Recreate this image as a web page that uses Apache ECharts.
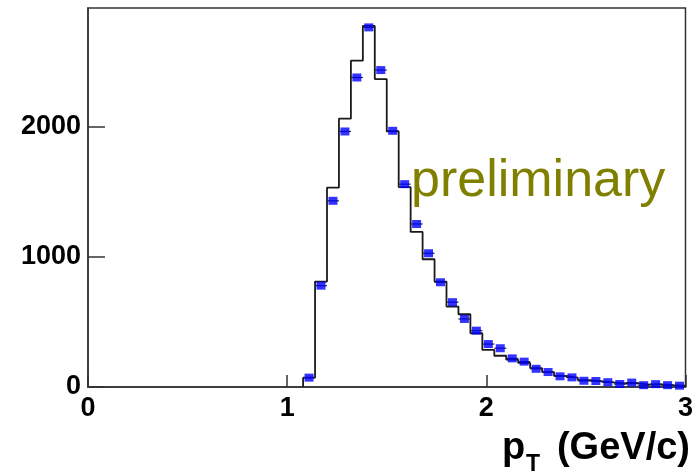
<!DOCTYPE html>
<html>
<head>
<meta charset="utf-8">
<script src="https://cdn.jsdelivr.net/npm/echarts@6/dist/echarts.min.js"></script>
<style>
  html, body { margin: 0; padding: 0; background: #fff; }
  #chart { width: 696px; height: 475px; }
</style>
</head>
<body>
<div id="chart"></div>
<script>
// bins: 32 bins of width 0.06 starting at 1.08
var binStart = 1.08;
var binWidth = 0.06;
// black histogram (bin contents)
var histValues = [72, 810, 1533, 2062, 2508, 2775, 2367, 1964, 1537, 1192,
  982, 810, 618, 559, 413, 285, 240, 210, 185, 145,
  115, 85, 70, 52, 44, 35, 27, 30, 18, 20, 14, 10];
// blue points (bin centres)
var pointValues = [72, 779, 1431, 1964, 2379, 2764, 2436, 1969, 1559, 1253,
  1028, 805, 652, 523, 433, 330, 298, 220, 195, 140,
  115, 82, 74, 48, 46, 37, 23, 34, 14, 22, 14, 10];
var xTicks = [0, 1, 2, 3];
var yTicks = [0, 1000, 2000];

var chart = echarts.init(document.getElementById('chart'));

// step outline from bin edges
var stepLine = [[binStart, 0]];
histValues.forEach(function (v, i) {
  var lo = +(binStart + i * binWidth).toFixed(4);
  var hi = +(binStart + (i + 1) * binWidth).toFixed(4);
  stepLine.push([lo, v]);
  stepLine.push([hi, v]);
});
var points = pointValues.map(function (v, i) {
  return [+(binStart + (i + 0.5) * binWidth).toFixed(4), v];
});

var tickFont = { fontFamily: 'Liberation Sans', fontWeight: 'bold', fontSize: 27, color: '#000' };

chart.setOption({
  animation: false,
  grid: {
    left: 88, right: 8, top: 8, bottom: 88,
    show: true, borderColor: '#333', borderWidth: 1.5
  },
  xAxis: {
    type: 'value', min: 0, max: 3, interval: 1,
    splitLine: { show: false },
    axisLine: { lineStyle: { color: '#333', width: 1.5 } },
    axisTick: { inside: true, length: 12, lineStyle: { color: '#333', width: 1.5 } },
    axisLabel: Object.assign({ margin: 8 }, tickFont, {
      formatter: function (v) { return xTicks.indexOf(v) >= 0 ? String(v) : ''; }
    })
  },
  yAxis: {
    type: 'value', min: 0, max: 2913, interval: 1000,
    splitLine: { show: false },
    axisLine: { lineStyle: { color: '#333', width: 1.5 } },
    axisTick: { inside: true, length: 17, lineStyle: { color: '#333', width: 1.5 } },
    axisLabel: Object.assign({ margin: 7, showMaxLabel: false }, tickFont, {
      formatter: function (v) { return yTicks.indexOf(v) >= 0 ? String(v) : ''; }
    })
  },
  series: [
    {
      type: 'line',
      data: stepLine,
      symbol: 'none',
      clip: true,
      lineStyle: { color: '#1a1a1a', width: 1.8 },
      z: 2
    },
    {
      type: 'custom',
      data: points,
      clip: true,
      z: 3,
      renderItem: function (params, api) {
        var a = api.coord([api.value(0) - binWidth / 2, api.value(1)]);
        var b = api.coord([api.value(0) + binWidth / 2, api.value(1)]);
        return {
          type: 'line',
          shape: { x1: a[0], y1: a[1], x2: b[0], y2: b[1] },
          style: { stroke: '#222', lineWidth: 1.2 }
        };
      }
    },
    {
      type: 'scatter',
      data: points,
      symbol: 'rect',
      symbolSize: [9, 8],
      itemStyle: { color: '#0000ff' },
      z: 4
    }
  ],
  graphic: [
    {
      type: 'text', left: 411, top: 156,
      style: {
        text: 'preliminary', fill: '#808000',
        font: 'normal 52px "Liberation Sans", Arial, sans-serif'
      }
    },
    {
      type: 'text', left: 502, top: 430,
      style: {
        text: 'p', fill: '#000',
        font: 'bold 38px "Liberation Sans", Arial, sans-serif'
      }
    },
    {
      type: 'text', left: 526, top: 453,
      style: {
        text: 'T', fill: '#000',
        font: 'bold 23px "Liberation Sans", Arial, sans-serif'
      }
    },
    {
      type: 'text', right: 6, top: 430,
      style: {
        text: '(GeV/c)', fill: '#000',
        font: 'bold 38px "Liberation Sans", Arial, sans-serif'
      }
    }
  ]
});
</script>
</body>
</html>
